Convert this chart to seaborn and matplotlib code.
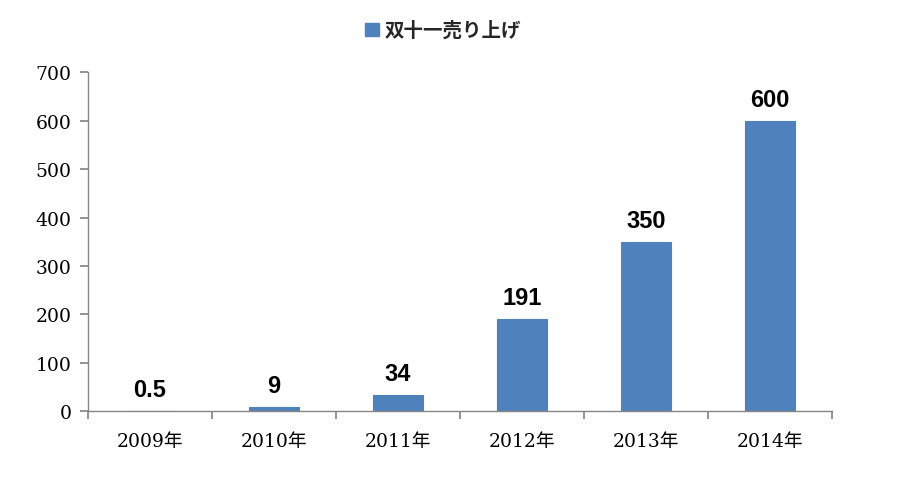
import matplotlib
matplotlib.use("Agg")
import matplotlib.pyplot as plt
import seaborn as sns
import pandas as pd
from matplotlib.patches import Patch

years = ["2009年", "2010年", "2011年", "2012年", "2013年", "2014年"]
sales = [0.5, 9, 34, 191, 350, 600]
labels = ["0.5", "9", "34", "191", "350", "600"]
series_name = "双十一売り上げ"

sns.set_theme(style="white")
plt.rcParams['font.family'] = ['DejaVu Serif', 'Noto Sans CJK JP']

df = pd.DataFrame({"year": years, "sales": sales})
color = "#4F81BD"

fig = plt.figure(figsize=(9.17, 4.85), dpi=100)
ax = fig.add_axes([0.096, 0.150, 0.811, 0.699])
sns.barplot(data=df, x="year", y="sales", color=color, width=0.4, ax=ax,
            saturation=1, edgecolor=color, linewidth=0.8)

ax.set_ylim(0, 700)
ax.set_xlim(-0.5, 5.5)
ax.set_yticks(range(0, 701, 100))
ax.set_xlabel("")
ax.set_ylabel("")
for s in ["top", "right"]:
    ax.spines[s].set_visible(False)
for s in ["left", "bottom"]:
    ax.spines[s].set_color("#868686")
    ax.spines[s].set_linewidth(1)
ax.set_xticks([i - 0.5 for i in range(7)], minor=False)
ax.set_xticklabels([""] * 7)
ax.set_xticks(range(6), minor=True)
ax.set_xticklabels(years, minor=True)
ax.tick_params(axis="x", which="major", length=6, color="#868686", direction="out", bottom=True)
ax.tick_params(axis="x", which="minor", length=0, labelsize=13.5, pad=15, labelcolor="black")
ax.tick_params(axis="y", length=6, color="#868686", direction="out", left=True, labelsize=13.5, pad=6, labelcolor="black")
for t in ax.get_xticklabels(minor=True):
    t.set_family(['DejaVu Serif', 'Noto Sans CJK JP'])

for i, (v, lab) in enumerate(zip(sales, labels)):
    ax.annotate(lab, (i, v), xytext=(0, 7), textcoords="offset points",
                ha="center", va="bottom", fontsize=17, fontweight="bold",
                family="Liberation Sans", color="black")

handle = Patch(facecolor=color, edgecolor=color)
leg = fig.legend([handle], [series_name], loc="center", bbox_to_anchor=(0.483, 0.935),
                 frameon=False, handlelength=0.7, handleheight=0.7, handletextpad=0.3,
                 prop={"family": ["Noto Sans CJK JP"], "weight": "bold", "size": 14})

fig.savefig("out.png", dpi=100)
